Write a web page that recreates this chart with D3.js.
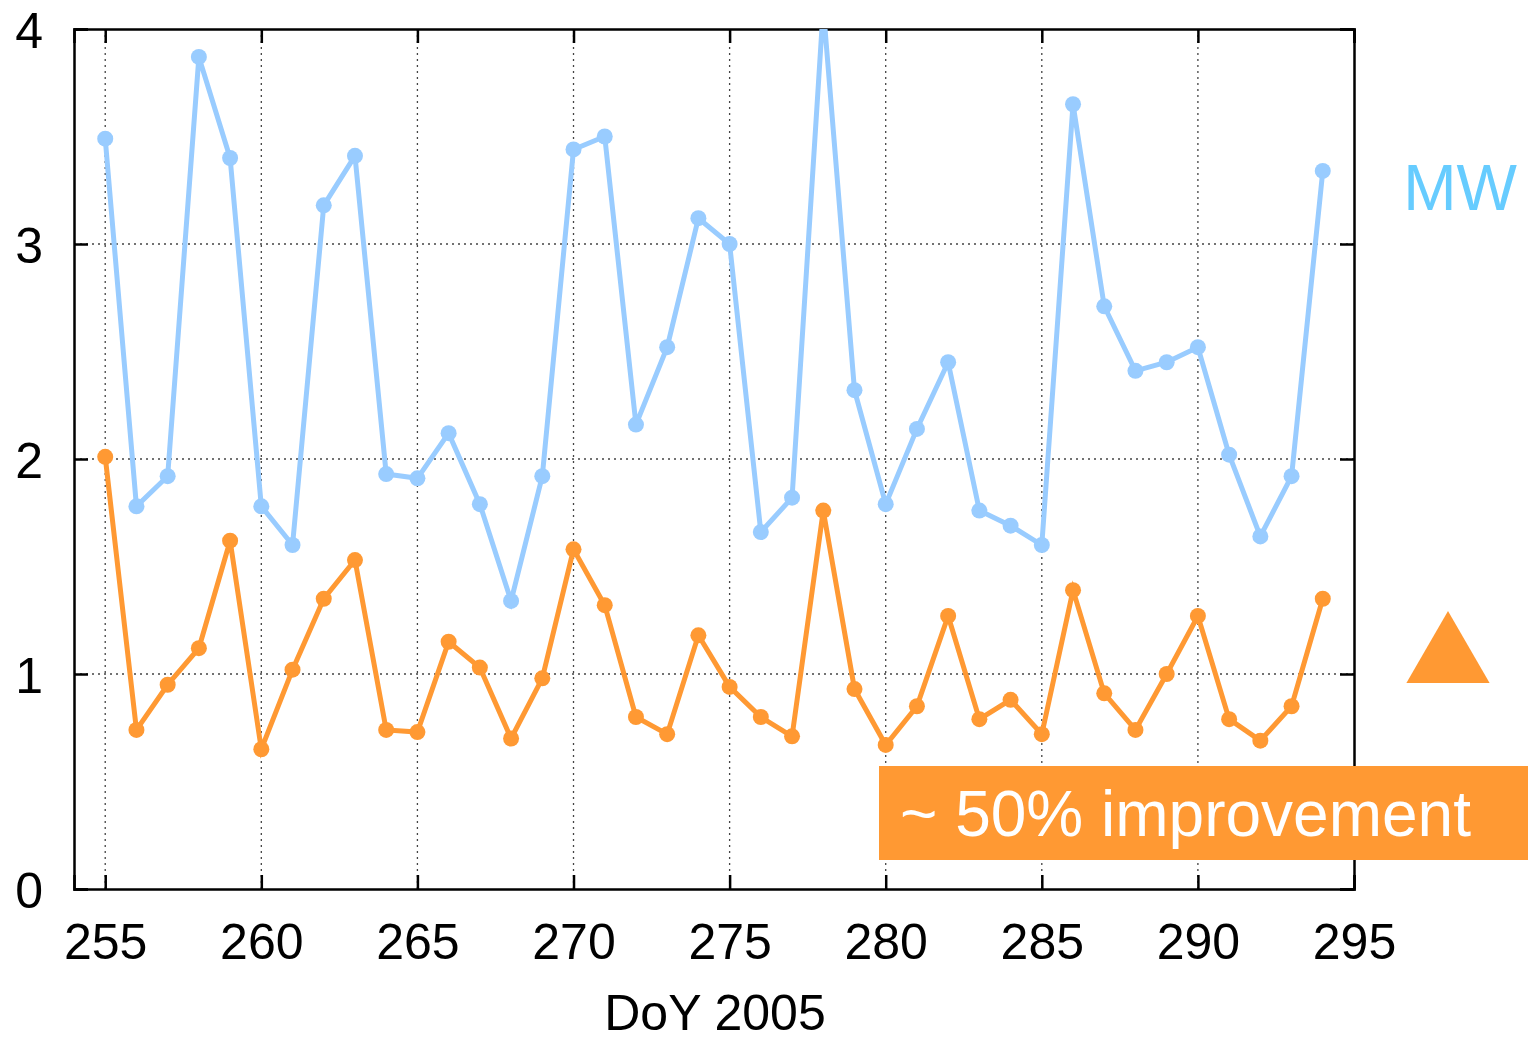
<!DOCTYPE html>
<html>
<head>
<meta charset="utf-8">
<script src="https://d3js.org/d3.v7.min.js"></script>
<style>
  body { margin: 0; background: #fff; }
  svg { display: block; font-family: "Liberation Sans", Arial, Helvetica, sans-serif; }
</style>
</head>
<body>
<svg id="chart" width="1528" height="1039"></svg>
<script>
// Day of year 2005
const days = d3.range(255, 295);
const xTicks = [255, 260, 265, 270, 275, 280, 285, 290, 295];
const yTicks = [0, 1, 2, 3, 4];

// MW series (light blue)
const mwValues = [3.49, 1.78, 1.92, 3.87, 3.40, 1.78, 1.60, 3.18, 3.41, 1.93,
                  1.91, 2.12, 1.79, 1.34, 1.92, 3.44, 3.50, 2.16, 2.52, 3.12,
                  3.00, 1.66, 1.82, 4.10, 2.32, 1.79, 2.14, 2.45, 1.76, 1.69,
                  1.60, 3.65, 2.71, 2.41, 2.45, 2.52, 2.02, 1.64, 1.92, 3.34];

// improved series (orange)
const newValues = [2.01, 0.74, 0.95, 1.12, 1.62, 0.65, 1.02, 1.35, 1.53, 0.74,
                   0.73, 1.15, 1.03, 0.70, 0.98, 1.58, 1.32, 0.80, 0.72, 1.18,
                   0.94, 0.80, 0.71, 1.76, 0.93, 0.67, 0.85, 1.27, 0.79, 0.88,
                   0.72, 1.39, 0.91, 0.74, 1.00, 1.27, 0.79, 0.69, 0.85, 1.35];

const xLabel = "DoY 2005";
const mwLabel = "MW";
const bannerText = "~ 50% improvement";

const margin = { top: 29, right: 174, bottom: 150, left: 74 };
const width = 1528, height = 1039;
const chartWidth = width - margin.left - margin.right;
const chartHeight = height - margin.top - margin.bottom;

const blue = "#99ccff";
const orange = "#ff9933";

const svg = d3.select("#chart");
const g = svg.append("g")
    .attr("transform", `translate(${margin.left}, ${margin.top})`);

const xScale = d3.scaleLinear().domain([254, 295]).range([0, chartWidth]);
const yScale = d3.scaleLinear().domain([0, 4]).range([chartHeight, 0]);

// clip so the spike at 278 is cut by the frame
g.append("clipPath").attr("id", "plot-clip")
    .append("rect").attr("width", chartWidth).attr("height", chartHeight);

// dotted grid
g.append("g")
    .selectAll("line")
    .data(xTicks.filter(d => d < 295))
    .enter().append("line")
    .attr("x1", d => xScale(d)).attr("x2", d => xScale(d))
    .attr("y1", 0).attr("y2", chartHeight)
    .attr("stroke", "#444").attr("stroke-width", 1.3)
    .attr("stroke-dasharray", "2,4");

g.append("g")
    .selectAll("line")
    .data(yTicks.filter(d => d > 0 && d < 4))
    .enter().append("line")
    .attr("x1", 0).attr("x2", chartWidth)
    .attr("y1", d => yScale(d)).attr("y2", d => yScale(d))
    .attr("stroke", "#444").attr("stroke-width", 1.3)
    .attr("stroke-dasharray", "2,4");

// axes with inward ticks
const tickLen = 14;
const fmt = d3.format("d");
const xAxisBottom = g.append("g")
    .attr("transform", `translate(0, ${chartHeight})`)
    .call(d3.axisBottom(xScale).tickValues(xTicks).tickSize(-tickLen).tickPadding(34).tickFormat(fmt));
const xAxisTop = g.append("g")
    .call(d3.axisTop(xScale).tickValues(xTicks).tickSize(-tickLen).tickFormat(""));
const yAxisLeft = g.append("g")
    .call(d3.axisLeft(yScale).tickValues(yTicks).tickSize(-tickLen).tickPadding(31).tickFormat(fmt));
const yAxisRight = g.append("g")
    .attr("transform", `translate(${chartWidth}, 0)`)
    .call(d3.axisRight(yScale).tickValues(yTicks).tickSize(-tickLen).tickFormat(""));

[xAxisBottom, xAxisTop, yAxisLeft, yAxisRight].forEach(ax => {
    ax.select(".domain").attr("stroke", "#000").attr("stroke-width", 2.5);
    ax.selectAll(".tick line").attr("stroke", "#000").attr("stroke-width", 2.5);
    ax.selectAll("text").attr("fill", "#000").style("font-size", "50px");
});
yAxisLeft.selectAll("text").attr("dy", "0.36em");

// lines + markers
const line = d3.line()
    .x((d, i) => xScale(days[i]))
    .y(d => yScale(d));

const series = [
    { values: mwValues, color: blue },
    { values: newValues, color: orange }
];

const plot = g.append("g").attr("clip-path", "url(#plot-clip)");
series.forEach(s => {
    plot.append("path")
        .datum(s.values)
        .attr("fill", "none")
        .attr("stroke", s.color)
        .attr("stroke-width", 5)
        .attr("stroke-linejoin", "miter")
        .attr("d", line);
    plot.selectAll(null)
        .data(s.values)
        .enter().append("circle")
        .attr("cx", (d, i) => xScale(days[i]))
        .attr("cy", d => yScale(d))
        .attr("r", 8)
        .attr("fill", s.color);
});

// x-axis label
svg.append("text")
    .attr("x", 715)
    .attr("y", 1030)
    .style("text-anchor", "middle")
    .style("font-size", "50px")
    .attr("fill", "#000")
    .text(xLabel);

// MW label
svg.append("text")
    .attr("x", 1460)
    .attr("y", 210)
    .style("text-anchor", "middle")
    .style("font-size", "64px")
    .attr("fill", "#66ccff")
    .text(mwLabel);

// orange triangle
svg.append("path")
    .attr("d", d3.symbol().type(d3.symbolTriangle).size(3000))
    .attr("transform", "translate(1448, 659)")
    .attr("fill", orange);

// banner
svg.append("rect")
    .attr("x", 879).attr("y", 766)
    .attr("width", 1528 - 879).attr("height", 94)
    .attr("fill", orange);
svg.append("text")
    .attr("x", 900)
    .attr("y", 836)
    .style("font-size", "64px")
    .attr("fill", "#fff")
    .text(bannerText);
</script>
</body>
</html>
